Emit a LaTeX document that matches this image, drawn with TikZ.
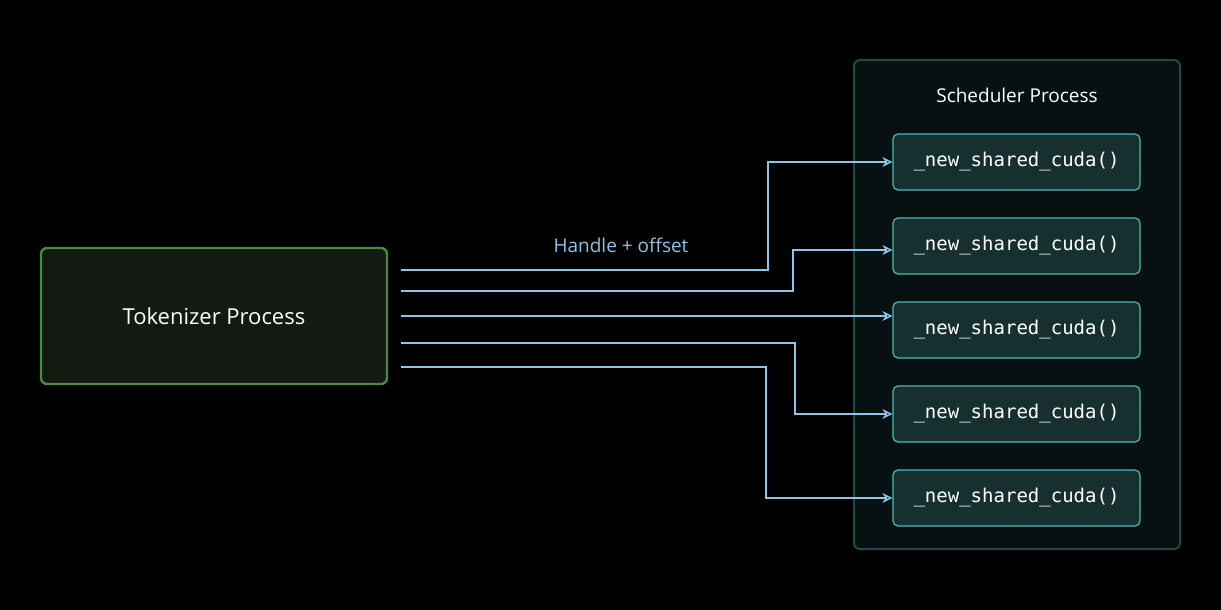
\documentclass[tikz,border=0pt]{standalone}
\usepackage{fontspec}
\setmainfont{Open Sans}
\setmonofont{DejaVu Sans Mono}
\usetikzlibrary{arrows.meta}
\definecolor{bg}{HTML}{000000}
\definecolor{tokfill}{HTML}{131A12}
\definecolor{tokdraw}{HTML}{4A8A3A}
\definecolor{schfill}{HTML}{071112}
\definecolor{schdraw}{HTML}{1F4A48}
\definecolor{fnfill}{HTML}{16302F}
\definecolor{fndraw}{HTML}{4FB8B5}
\definecolor{arr}{HTML}{8EC3EA}
\tikzset{
 fnbox/.style={draw=fndraw,fill=fnfill,rounded corners=2.5pt,line width=0.6pt,minimum width=123.5pt,minimum height=28pt,inner sep=0pt,font=\ttfamily\fontsize{9.5}{11}\selectfont,text=white},
 link/.style={draw=arr,line width=0.7pt,-{Stealth[length=5pt,width=5pt,open]}}
}
\begin{document}
\begin{tikzpicture}[x=0.5pt,y=-0.5pt]
\fill[bg] (0,0) rectangle (1221,610);
\useasboundingbox (0,0) rectangle (1221,610);
\node[draw=tokdraw,fill=tokfill,rounded corners=3pt,line width=1.2pt,minimum width=173pt,minimum height=68pt,text=white,font=\fontsize{11}{13}\selectfont] (tok) at (214,316) {Tokenizer Process};
\node[draw=schdraw,fill=schfill,rounded corners=3pt,line width=1pt,minimum width=163pt,minimum height=244.5pt] (sch) at (1017,304.5) {};
\node[text=white,font=\fontsize{9.5}{11}\selectfont] (schl) at (1017,95) {Scheduler Process};
\node[fnbox] (f1) at (1016.5,162) {\_new\_shared\_cuda()};
\node[fnbox] (f2) at (1016.5,246) {\_new\_shared\_cuda()};
\node[fnbox] (f3) at (1016.5,330) {\_new\_shared\_cuda()};
\node[fnbox] (f4) at (1016.5,414) {\_new\_shared\_cuda()};
\node[fnbox] (f5) at (1016.5,498) {\_new\_shared\_cuda()};
\coordinate (s1) at (401,270);
\coordinate (s2) at (401,291);
\coordinate (s3) at (401,316);
\coordinate (s4) at (401,343);
\coordinate (s5) at (401,367);
\draw[link] (s1) -- (768,270) -- (768,162) -- (f1.west);
\draw[link] (s2) -- (793,291) -- (793,250) -- (f2.west|-0,250);
\draw[link] (s3) -- (f3.west|-s3);
\draw[link] (s4) -- (795,343) -- (795,414) -- (f4.west);
\draw[link] (s5) -- (766,367) -- (766,498) -- (f5.west);
\node[text=arr,font=\fontsize{9.5}{11}\selectfont] (lab) at (621,245) {Handle + offset};
\end{tikzpicture}
\end{document}
